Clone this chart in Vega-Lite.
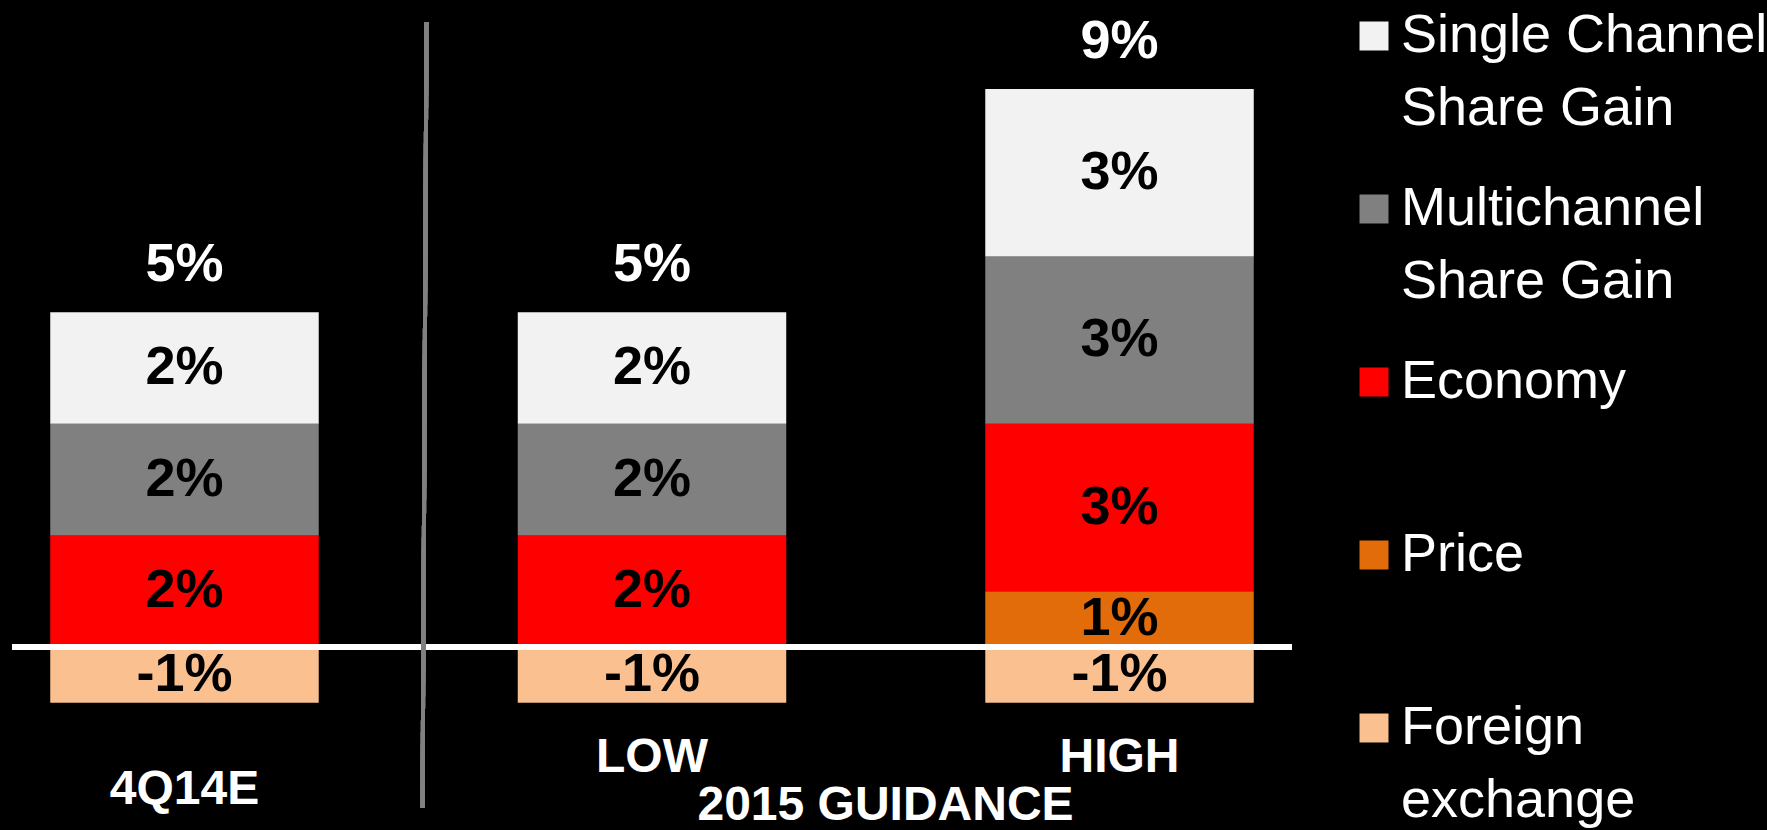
{
  "$schema": "https://vega.github.io/schema/vega-lite/v6.json",
  "width": 1280,
  "height": 692,
  "autosize": {"type": "none"},
  "padding": {"left": 12, "top": 22, "right": 475, "bottom": 116},
  "background": "#000000",
  "config": {"view": {"stroke": null}, "font": "Liberation Sans"},
  "datasets": {
    "contrib": [
      {"bar": "4Q14E", "driver": "Foreign exchange", "k": 1, "value": -1},
      {"bar": "4Q14E", "driver": "Economy", "k": 3, "value": 2},
      {"bar": "4Q14E", "driver": "Multichannel Share Gain", "k": 4, "value": 2},
      {"bar": "4Q14E", "driver": "Single Channel Share Gain", "k": 5, "value": 2},
      {"bar": "LOW", "driver": "Foreign exchange", "k": 1, "value": -1},
      {"bar": "LOW", "driver": "Economy", "k": 3, "value": 2},
      {"bar": "LOW", "driver": "Multichannel Share Gain", "k": 4, "value": 2},
      {"bar": "LOW", "driver": "Single Channel Share Gain", "k": 5, "value": 2},
      {"bar": "HIGH", "driver": "Foreign exchange", "k": 1, "value": -1},
      {"bar": "HIGH", "driver": "Price", "k": 2, "value": 1},
      {"bar": "HIGH", "driver": "Economy", "k": 3, "value": 3},
      {"bar": "HIGH", "driver": "Multichannel Share Gain", "k": 4, "value": 3},
      {"bar": "HIGH", "driver": "Single Channel Share Gain", "k": 5, "value": 3}
    ],
    "totals": [
      {"bar": "4Q14E", "total": "5%"},
      {"bar": "LOW", "total": "5%"},
      {"bar": "HIGH", "total": "9%"}
    ]
  },
  "data": {"name": "contrib"},
  "layer": [
    {
      "mark": {"type": "bar"},
      "encoding": {
        "x": {
          "field": "bar", "type": "nominal", "sort": ["4Q14E", "LOW", "HIGH"],
          "scale": {"paddingInner": 0.4257, "paddingOuter": 0.0818},
          "axis": {
            "title": "2015 GUIDANCE", "titleColor": "#ffffff", "titleFont": "Liberation Sans",
            "titleFontSize": 48, "titleFontWeight": "bold", "titleX": 873, "titleY": 105,
            "titleAlign": "center", "titleBaseline": "alphabetic", "titleAnchor": "start",
            "domain": false, "ticks": false, "tickSize": 0, "labelAngle": 0,
            "labelColor": "#ffffff", "labelFontSize": 48, "labelFontWeight": "bold",
            "labelFont": "Liberation Sans", "labelBaseline": "alphabetic",
            "labelPadding": {"condition": {"test": "datum.value === '4Q14E'", "value": 89}, "value": 57}
          }
        },
        "y": {"field": "value", "type": "quantitative", "stack": "zero",
              "scale": {"domain": [-1.2, 11.2], "nice": false, "zero": false}, "axis": null},
        "order": {"field": "k", "type": "quantitative"},
        "color": {
          "field": "driver", "type": "nominal",
          "scale": {
            "domain": ["Single Channel Share Gain", "Multichannel Share Gain", "Economy", "Price", "Foreign exchange"],
            "range": ["#F2F2F2", "#808080", "#FF0000", "#E36C0A", "#FAC090"]
          },
          "legend": {
            "orient": "none", "legendX": 1335, "legendY": -13, "title": null,
            "symbolType": "square", "symbolSize": 840, "symbolStrokeWidth": 0,
            "labelFont": "Liberation Sans", "labelFontSize": 54, "labelColor": "#ffffff",
            "labelLimit": 600, "labelOffset": 0, "rowPadding": 46, "gridAlign": "all",
            "labelBaseline": "middle",
            "encode": {"labels": {"update": {"lineHeight": {"value": 73}}}},
            "labelExpr": "datum.label == 'Single Channel Share Gain' ? ['Single Channel', 'Share Gain'] : datum.label == 'Multichannel Share Gain' ? ['Multichannel', 'Share Gain'] : datum.label == 'Foreign exchange' ? ['Foreign', 'exchange'] : datum.label"
          }
        }
      }
    },
    {
      "transform": [
        {"stack": "value", "groupby": ["bar"], "sort": [{"field": "k"}], "as": ["v0", "v1"]},
        {"calculate": "(datum.v0 + datum.v1) / 2", "as": "mid"},
        {"calculate": "datum.value + '%'", "as": "txt"}
      ],
      "mark": {"type": "text", "font": "Liberation Sans", "fontSize": 54, "fontWeight": "bold", "color": "#000000", "baseline": "middle"},
      "encoding": {
        "x": {"field": "bar", "type": "nominal", "sort": ["4Q14E", "LOW", "HIGH"]},
        "y": {"field": "mid", "type": "quantitative"},
        "text": {"field": "txt"}
      }
    },
    {
      "transform": [
        {"filter": "datum.value > 0"},
        {"aggregate": [{"op": "sum", "field": "value", "as": "top"}], "groupby": ["bar"]},
        {"lookup": "bar", "from": {"data": {"name": "totals"}, "key": "bar", "fields": ["total"]}}
      ],
      "mark": {"type": "text", "font": "Liberation Sans", "fontSize": 54, "fontWeight": "bold", "color": "#ffffff", "baseline": "alphabetic", "dy": -31},
      "encoding": {
        "x": {"field": "bar", "type": "nominal", "sort": ["4Q14E", "LOW", "HIGH"]},
        "y": {"field": "top", "type": "quantitative"},
        "text": {"field": "total"}
      }
    },
    {
      "mark": {"type": "rule", "color": "#ffffff", "strokeWidth": 5},
      "encoding": {"y": {"datum": 0}}
    },
    {
      "mark": {"type": "rule", "color": "#808080", "strokeWidth": 4},
      "encoding": {
        "x": {"datum": "4Q14E", "type": "nominal", "bandPosition": 1.4015},
        "x2": {"datum": "4Q14E", "bandPosition": 1.3866},
        "y": {"datum": 11.2},
        "y2": {"datum": -2.885}
      }
    }
  ]
}
